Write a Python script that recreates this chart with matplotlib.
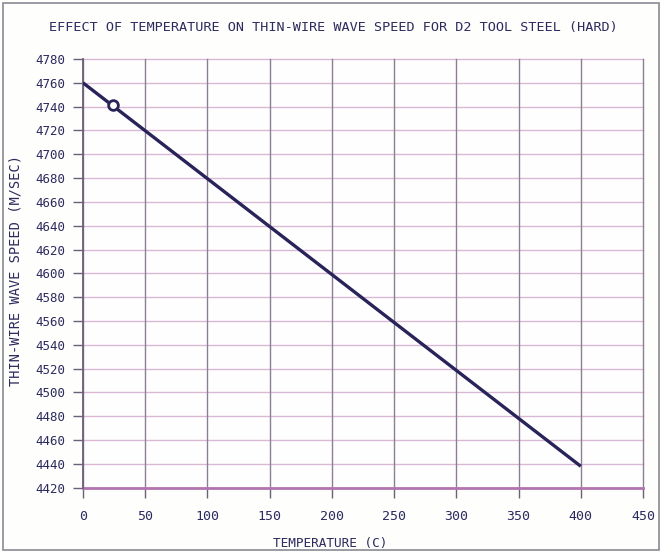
import matplotlib
matplotlib.use("Agg")
import matplotlib.pyplot as plt
from matplotlib.patches import Rectangle
import numpy as np

# Data
temps = [0, 400]
speeds = [4760, 4438]
room_temp = [24]
room_speed = [4741]
xticks = [0, 50, 100, 150, 200, 250, 300, 350, 400, 450]
yticks = list(range(4420, 4781, 20))

title = "EFFECT OF TEMPERATURE ON THIN-WIRE WAVE SPEED FOR D2 TOOL STEEL (HARD)"
xlabel = "TEMPERATURE (C)"
ylabel = "THIN-WIRE WAVE SPEED (M/SEC)"

txt = "#2c2a5e"
plt.rcParams['font.family'] = ['DejaVu Sans Mono']

fig = plt.figure(figsize=(6.62, 5.53), dpi=100, facecolor="#fefefc")
ax = fig.add_axes([83/662, 1-487.7/553, (643-83)/662, (487.7-59)/553])
ax.set_facecolor("#fffefe")

ax.set_xlim(0, 450)
ax.set_ylim(4420, 4780)
ax.set_xticks(xticks)
ax.set_yticks(yticks)
ax.set_xticklabels([str(v) for v in xticks], fontsize=9.5, color=txt)
ax.set_yticklabels([str(v) for v in yticks], fontsize=9.0, color=txt)

for y in yticks:
    ax.axhline(y, color="#d9b8d6", lw=1.0, zorder=1, clip_on=False)
for x in xticks:
    ax.axvline(x, color="#8c7f93", lw=1.0, zorder=1, clip_on=False)
ax.axhline(4420, color="#b274b0", lw=2.0, zorder=2, clip_on=False)
ax.axvline(0, color="#6e5f7a", lw=1.3, zorder=2, clip_on=False)

for s in ax.spines.values():
    s.set_visible(False)
ax.tick_params(axis='both', length=7, width=1.0, color="#6e5f7a", pad=6)
ax.tick_params(axis='x', pad=9)

ax.plot(temps, speeds, color="#28245a", lw=2.4, zorder=4, solid_capstyle='butt')
ax.plot(room_temp, room_speed, marker='o', ms=7, mfc='white', mec="#28245a",
        mew=2.0, ls='none', zorder=5)

fig.text(333/662, 1-27/553, title, ha='center', va='center', fontsize=9.7, color=txt)
fig.text(330/662, 1-544/553, xlabel, ha='center', va='center', fontsize=9.2, color=txt)
fig.text(16/662, 1-270/553, ylabel, ha='center', va='center', rotation=90, fontsize=9.8, color=txt)

fig.patches.append(Rectangle((3/662, 3/553), 656/662, 547/553, transform=fig.transFigure,
                             fill=False, edgecolor="#8a8a94", lw=1.2))

fig.savefig("out.png", dpi=100, facecolor=fig.get_facecolor())
